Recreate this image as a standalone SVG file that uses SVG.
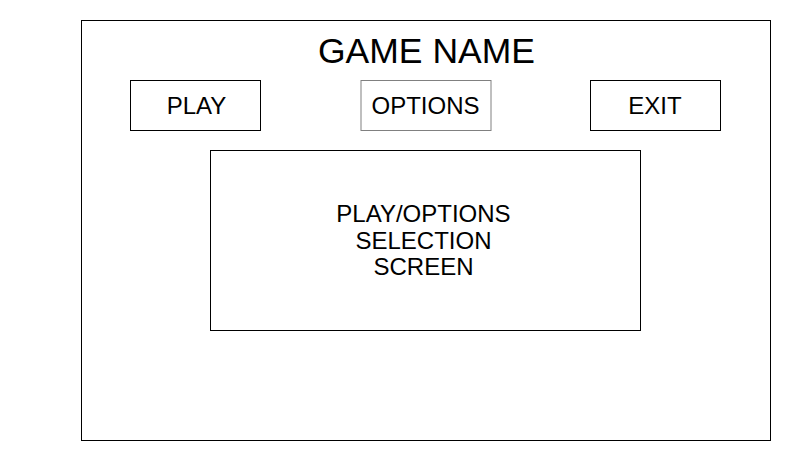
<svg xmlns="http://www.w3.org/2000/svg" width="790" height="460" viewBox="0 0 790 460">
<style>
.box{fill:#fff;stroke:#000;stroke-width:1}
.t{font-family:"Liberation Sans",Arial,sans-serif;font-size:24px;fill:#000;text-anchor:middle}
</style>
<rect width="790" height="460" fill="#fff"/>
<g id="frame">
<rect class="box" x="81.5" y="20.5" width="689" height="420"/>
<text class="t" x="426.5" y="63" style="font-size:35.5px">GAME NAME</text>
</g>
<g id="play">
<rect class="box" x="130.5" y="80.5" width="130" height="50"/>
<text class="t" x="196.5" y="113.5">PLAY</text>
</g>
<g id="options">
<rect class="box" x="361" y="80.5" width="130" height="50" style="stroke:#808080"/>
<text class="t" x="425.5" y="113.5">OPTIONS</text>
</g>
<g id="exit">
<rect class="box" x="590.5" y="80.5" width="130" height="50"/>
<text class="t" x="655" y="113.5">EXIT</text>
</g>
<g id="screen">
<rect class="box" x="210.5" y="150.5" width="430" height="180"/>
<text class="t" x="423.5" y="222">PLAY/OPTIONS</text>
<text class="t" x="423.5" y="248.5">SELECTION</text>
<text class="t" x="423.5" y="275">SCREEN</text>
</g>
<g id="connectors"/>
</svg>
